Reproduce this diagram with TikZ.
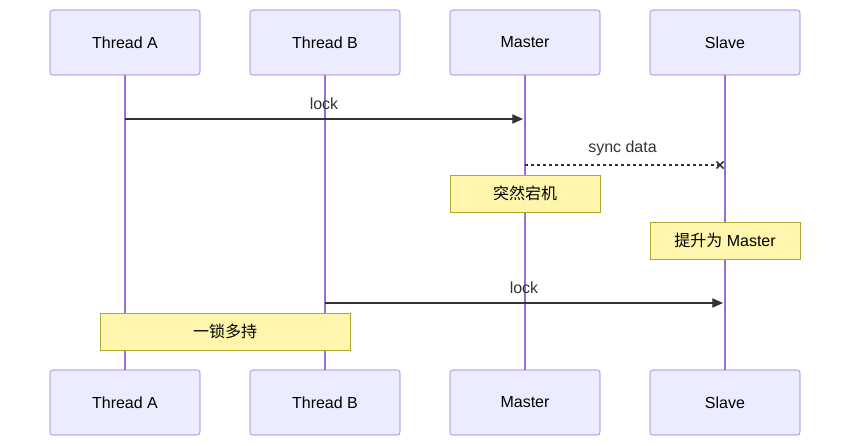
\documentclass[tikz,border=0pt]{standalone}
\usepackage{fontspec}
\setmainfont{Liberation Sans}
\newfontfamily\cjk{Noto Sans CJK SC}
\usetikzlibrary{arrows.meta,positioning}
\definecolor{actfill}{HTML}{ECECFF}
\definecolor{actline}{HTML}{9370DB}
\definecolor{notefill}{HTML}{FFF5AD}
\definecolor{noteline}{HTML}{AAAA33}
\definecolor{msgline}{HTML}{333333}
\tikzset{
  actor/.style={draw=actline,fill=actfill,rounded corners=2pt,minimum width=112.5pt,minimum height=48.75pt,inner sep=0pt,font=\fontsize{12}{14}\selectfont},
  note/.style={draw=noteline,fill=notefill,minimum height=27.75pt,inner sep=0pt,font=\fontsize{12}{14}\selectfont},
  life/.style={actline,line width=1.1pt},
  msg/.style={msgline,line width=0.8pt,-{Triangle[length=8pt,width=7pt]}},
  lbl/.style={font=\fontsize{12}{14}\selectfont,text=msgline}
}
\begin{document}
\begin{tikzpicture}[x=0.75pt,y=-0.75pt]
  \useasboundingbox (0,0) rectangle (850,446);
  % actors
  \node[actor] (ta) at (125,42.5) {Thread A};
  \node[actor] (tb) at (325,42.5) {Thread B};
  \node[actor] (ma) at (525,42.5) {Master};
  \node[actor] (sl) at (725,42.5) {Slave};
  \node[actor] (ta2) at (125,402.5) {Thread A};
  \node[actor] (tb2) at (325,402.5) {Thread B};
  \node[actor] (ma2) at (525,402.5) {Master};
  \node[actor] (sl2) at (725,402.5) {Slave};
  % lifelines
  \foreach \a in {ta,tb,ma,sl}
    \draw[life] (\a.south) -- (\a2.north);
  % messages
  \coordinate (m1a) at (125,119);
  \coordinate (m1b) at (523,119);
  \draw[msg] (m1a) -- node[lbl,above=3pt] {lock} (m1b);
  \coordinate (m2a) at (525,165);
  \coordinate (m2b) at (720,165);
  \draw[msgline,line width=0.8pt,dash pattern=on 2.5pt off 2pt] (m2a) -- node[lbl,above=3pt] {sync data} (m2b);
  \draw[msgline,line width=1.2pt] ([shift={(-3.5,-3.5)}]m2b) -- ([shift={(3.5,3.5)}]m2b)
    ([shift={(-3.5,3.5)}]m2b) -- ([shift={(3.5,-3.5)}]m2b);
  \node[note,minimum width=112.5pt] (n1) at (525,193.5) {\cjk 突然宕机};
  \node[note,minimum width=112.5pt] (n2) at (725,240.5) {{\cjk 提升为} Master};
  \coordinate (m3a) at (325,303);
  \coordinate (m3b) at (723,303);
  \draw[msg] (m3a) -- node[lbl,above=3pt] {lock} (m3b);
  \node[note,minimum width=187.5pt] (n3) at (225,331.5) {\cjk 一锁多持};
\end{tikzpicture}
\end{document}
